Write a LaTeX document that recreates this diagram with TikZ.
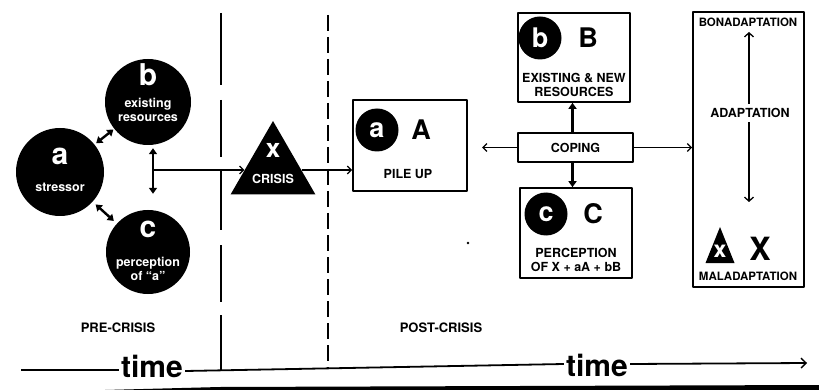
\documentclass[tikz,border=0pt]{standalone}
\usepackage{fontspec}
\setmainfont{TeX Gyre Heros}
\usetikzlibrary{arrows.meta,shapes.geometric}
\newcommand\fsz[2]{\fontsize{#1}{#2}\selectfont}
\begin{document}
\begin{tikzpicture}[x=1pt,y=-1pt, line join=round,
  circ/.style={circle, fill=black, inner sep=0pt},
  bigw/.style={font=\bfseries\fsz{30}{30}, inner sep=0pt, text=white},
  midw/.style={font=\bfseries\fsz{27}{27}, inner sep=0pt, text=white},
  midb/.style={font=\bfseries\fsz{27}{27}, inner sep=0pt},
  lbl/.style={font=\bfseries\fsz{12.5}{14.5}, inner sep=0pt, align=center},
  wlbl/.style={lbl, text=white},
  box/.style={draw, line width=1.6pt, inner sep=0pt},
  barr/.style={line width=1.3pt, -{Straight Barb[length=4pt,width=8pt,line width=1.3pt]}},
  dbarr/.style={line width=1.3pt, {Straight Barb[length=4pt,width=9pt,line width=1.3pt]}-{Straight Barb[length=4pt,width=9pt,line width=1.3pt]}},
  dbl/.style={line width=2.4pt, {Triangle[length=6pt,width=8pt]}-{Triangle[length=6pt,width=8pt]}},
  farr/.style={line width=2.4pt, -{Triangle[length=6pt,width=8pt]}},
  sep/.style={line width=1.8pt},
  timet/.style={font=\bfseries\fsz{30}{30}, inner xsep=2pt, inner ysep=0pt, anchor=base},
]
\useasboundingbox (0,0) rectangle (819,390);

% time axis
\node[timet] (time1) at (152,377) {time};
\node[timet] (time2) at (597,376) {time};
\coordinate (ax0) at (21,370);
\coordinate (axA) at (183,371);
\coordinate (axB) at (563,364);
\coordinate (ax1) at (807,363);
\draw[sep] (ax0) -- (time1.west |- ax0);
\draw[sep] (time1.east |- axA) -- (time2.west |- axB);
\draw[sep, -{Straight Barb[length=5pt,width=10pt,line width=1.4pt]}] (time2.east |- axB) -- (ax1);
\fill (105,390) -- (220,387) -- (819,385) -- (819,390) -- cycle;

% separators
\draw[sep] (221,13) -- (221,85) (221,100) -- (221,157) (221,170) -- (221,230)
           (221,245) -- (221,302) (221,315) -- (221,370);
\draw[sep, dash pattern=on 16pt off 6pt] (328,15) -- (328,368.5);

\node[lbl, font=\bfseries\fsz{13}{13}] (pre) at (118,328) {PRE-CRISIS};
\node[lbl, font=\bfseries\fsz{13}{13}] (post) at (441,328) {POST-CRISIS};

% pre-crisis circles
\node[circ, minimum size=88pt] (ca) at (60,172) {};
\node[bigw] (ca-l) at (60,156) {a};
\node[wlbl] (ca-t) at (60,187) {stressor};
\node[circ, minimum size=86pt] (cb) at (148,102) {};
\node[bigw] (cb-l) at (148,75) {b};
\node[wlbl] (cb-t) at (148,110) {existing\\resources};
\node[circ, minimum size=84pt] (cc) at (148,252) {};
\node[bigw] (cc-l) at (148,229) {c};
\node[wlbl] (cc-t) at (148,269) {perception\\of ``a''};

\draw[dbl, shorten <=2pt, shorten >=1pt] (ca) -- (cb);
\draw[dbl, shorten <=4pt, shorten >=4pt] (ca) -- (cc);
\draw[dbl] ([xshift=5pt,yshift=-3pt]cb.south) -- ([xshift=5pt,yshift=16pt]cc.north);

% crisis
\node[regular polygon, regular polygon sides=3, fill=black, minimum size=98pt, inner sep=0pt] (tri) at (273,170) {};
\node[font=\bfseries\fsz{26}{26}, text=white, inner sep=0pt] (tri-x) at (273,150) {x};
\node[wlbl] (tri-t) at (273,179) {CRISIS};
\coordinate (j) at (153,170);
\draw[barr] (j) -- (tri);

% pile up
\node[box, minimum width=114pt, minimum height=91pt] (pile) at (410,145.5) {};
\draw[barr] (tri) -- (tri -| pile.west);
\node[circ, minimum size=43pt] (pa) at (377,130) {};
\node[midw] (pa-l) at (377,130) {a};
\node[midb] (pA) at (421,130) {A};
\node[lbl] (pile-t) at (408,174) {PILE UP};

% existing & new resources
\node[box, minimum width=112pt, minimum height=89pt] (bbox) at (574,57.5) {};
\node[circ, minimum size=43pt] (bc) at (540,38) {};
\node[midw] (bc-l) at (540,38) {b};
\node[midb] (bB) at (588,38) {B};
\node[lbl] (bbox-t) at (574,85) {EXISTING \& NEW\\RESOURCES};

% coping
\node[box, font=\bfseries\fsz{12.5}{12.5}, minimum width=115pt, minimum height=29pt] (cope) at (575.5,147.5) {COPING};

% perception
\node[box, minimum width=112pt, minimum height=90pt] (cbox) at (576,233) {};
\node[circ, minimum size=43pt] (ccc) at (546,214) {};
\node[midw] (ccc-l) at (546,214) {c};
\node[midb] (cC) at (593,214) {C};
\node[lbl] (cbox-t) at (576,260) {PERCEPTION\\OF X + aA + bB};

\draw[farr] ([xshift=-3pt]cope.north) -- ([xshift=-3pt]cope.north |- bbox.south);
\draw[farr] ([xshift=-3pt]cope.south) -- ([xshift=-3pt]cope.south |- cbox.north);
\coordinate (lend) at (482,147.5);
\draw[barr] (cope.west) -- (lend);

% adaptation
\node[box, minimum width=111pt, minimum height=275pt] (adapt) at (748.5,149.5) {};
\draw[barr] (cope.east) -- (cope.east -| adapt.west);
\node[lbl, font=\bfseries\fsz{11.5}{11.5}] (bona) at (748,22) {BONADAPTATION};
\node[lbl, font=\bfseries\fsz{11.5}{11.5}] (mala) at (748,276) {MALADAPTATION};
\coordinate (atop) at (749,32);
\coordinate (abot) at (749,202);
\draw[dbarr] (atop) -- (abot);
\node[lbl, fill=white, inner xsep=1pt, inner ysep=4pt] (adap) at (750,113) {ADAPTATION};
\fill (720,227) -- (734.5,263) -- (705.5,263) -- cycle;
\node[font=\bfseries\fsz{23}{23}, text=white, inner sep=0pt] (mx) at (720,251) {x};
\node[font=\bfseries\fsz{32}{32}, inner sep=0pt] (mX) at (760,249) {X};

\fill (468,243) circle (1.3pt);
\end{tikzpicture}
\end{document}
